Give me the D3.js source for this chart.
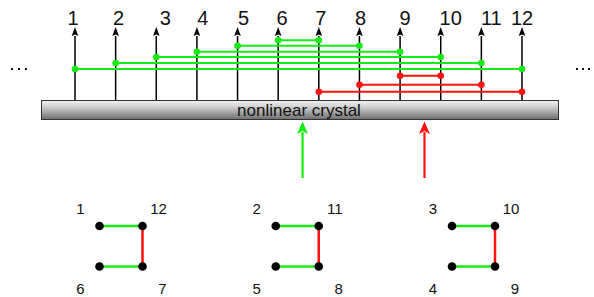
<!DOCTYPE html>
<html><head><meta charset="utf-8">
<script src="https://cdn.jsdelivr.net/npm/d3@7"></script>
<style>html,body{margin:0;padding:0;background:#fff;}svg{display:block;}</style>
</head><body>
<script>
// ---- data ----
const modes = [1,2,3,4,5,6,7,8,9,10,11,12];
const greenPairs = [[1,12],[2,11],[3,10],[4,9],[5,8],[6,7]];
const greenHeights = [31, 37, 43, 48.3, 54.3, 59.7];   // height above crystal
const redPairs = [[9,10],[8,11],[7,12]];
const redHeights = [24.3, 15.3, 8.3];
const squareGroups = [
  {tl:1, tr:12, bl:6, br:7},
  {tl:2, tr:11, bl:5, br:8},
  {tl:3, tr:10, bl:4, br:9}
];
const pumpBeams = [{name:"green", pos:6.6}, {name:"red", pos:9.6}];
const crystalLabel = "nonlinear crystal";

const W = 594, H = 297;
const GREEN = "#14ec14", RED = "#ff1111";
const FONT = "'Liberation Sans', Arial, sans-serif";
// small horizontal nudges of the mode labels (as placed in the original drawing)
const labelDx = [-2, 3, 9, 6, 6, 4, 2, 1, 5, 10, 10, 0];

const svg = d3.select("body").append("svg").attr("width", W).attr("height", H);
const defs = svg.append("defs");
const grad = defs.append("linearGradient").attr("id","cg").attr("x1",0).attr("y1",0).attr("x2",0).attr("y2",1);
grad.append("stop").attr("offset","0%").attr("stop-color","#f2f2f2");
grad.append("stop").attr("offset","30%").attr("stop-color","#d4d4d4");
grad.append("stop").attr("offset","100%").attr("stop-color","#6e6e6e");

// scales
const x = d3.scaleLinear().domain([1,12]).range([75, 522]);
const y = d3.scaleLinear().domain([0,72]).range([100, 28]);

// crystal
const cx0 = 41, cx1 = 559, cy0 = 100, cy1 = 120;
svg.append("rect").attr("x", cx0+0.5).attr("y", cy0+0.5).attr("width", cx1-cx0-1).attr("height", cy1-cy0-1)
  .attr("fill","url(#cg)").attr("stroke","#333").attr("stroke-width",1);
svg.append("text").attr("x", 299).attr("y", 116).attr("text-anchor","middle")
  .attr("font-family", FONT).attr("font-size", 17).attr("fill","#111").text(crystalLabel);

// mode arrows
const arrowG = svg.append("g");
modes.forEach((m, i) => {
  const xx = x(m);
  arrowG.append("line").attr("x1", xx).attr("x2", xx).attr("y1", cy0).attr("y2", y(64))
    .attr("stroke","#000").attr("stroke-width",1.5);
  arrowG.append("path").attr("d", `M${xx},${y(73)} L${xx-3.3},${y(64)} L${xx},${y(65.5)} L${xx+3.3},${y(64)} Z`)
    .attr("fill","#000");
  arrowG.append("text").attr("x", xx + labelDx[i]).attr("y", 24.5).attr("text-anchor","middle")
    .attr("font-family", FONT).attr("font-size", 20).attr("fill","#111").text(m);
});

// pair lines
function drawPairs(pairs, heights, color) {
  const g = svg.append("g");
  pairs.forEach((p, i) => {
    const yy = y(heights[i]);
    g.append("line").attr("x1", x(p[0])).attr("x2", x(p[1])).attr("y1", yy).attr("y2", yy)
      .attr("stroke", color).attr("stroke-width", 2);
    p.forEach(m => g.append("circle").attr("cx", x(m)).attr("cy", yy).attr("r", 3.3).attr("fill", color));
  });
}
drawPairs(greenPairs, greenHeights, GREEN);
drawPairs(redPairs, redHeights, RED);

// ellipses
[[12,19,26],[577,583,589]].forEach(xs => xs.forEach(xx =>
  svg.append("rect").attr("x", xx-1).attr("y", 68).attr("width", 2).attr("height", 2).attr("fill","#111")));

// pump arrows
pumpBeams.forEach(b => {
  const xx = x(b.pos);
  const col = b.name === "green" ? GREEN : RED;
  svg.append("line").attr("x1", xx).attr("x2", xx).attr("y1", 178).attr("y2", 132)
    .attr("stroke", col).attr("stroke-width", 2.2);
  svg.append("path").attr("d", `M${xx},121.5 L${xx-5.5},134 L${xx},131 L${xx+5.5},134 Z`).attr("fill", col);
});

// bottom squares
const gx = d3.scalePoint().domain(d3.range(squareGroups.length)).range([121, 473.5]);
const half = 21.5, yT = 226, yB = 266.5;
squareGroups.forEach((s, i) => {
  const c = gx(i), xl = c - half, xr = c + half;
  const g = svg.append("g");
  g.append("line").attr("x1", xl).attr("x2", xr).attr("y1", yT).attr("y2", yT).attr("stroke", GREEN).attr("stroke-width", 2.5);
  g.append("line").attr("x1", xl).attr("x2", xr).attr("y1", yB).attr("y2", yB).attr("stroke", GREEN).attr("stroke-width", 2.5);
  g.append("line").attr("x1", xr).attr("x2", xr).attr("y1", yT).attr("y2", yB).attr("stroke", RED).attr("stroke-width", 2.5);
  [[xl,yT],[xr,yT],[xl,yB],[xr,yB]].forEach(([px,py]) =>
    g.append("circle").attr("cx", px).attr("cy", py).attr("r", 4.3).attr("fill","#000"));
  const lab = (tx, ty, t) => g.append("text").attr("x", tx).attr("y", ty).attr("text-anchor","middle")
    .attr("font-family", FONT).attr("font-size", 15).attr("fill","#111").text(t);
  lab(xl - 19, 214, s.tl);
  lab(xr + 16, 214, s.tr);
  lab(xl - 19, 293.5, s.bl);
  lab(xr + 20, 293.5, s.br);
});
</script>
</body></html>
